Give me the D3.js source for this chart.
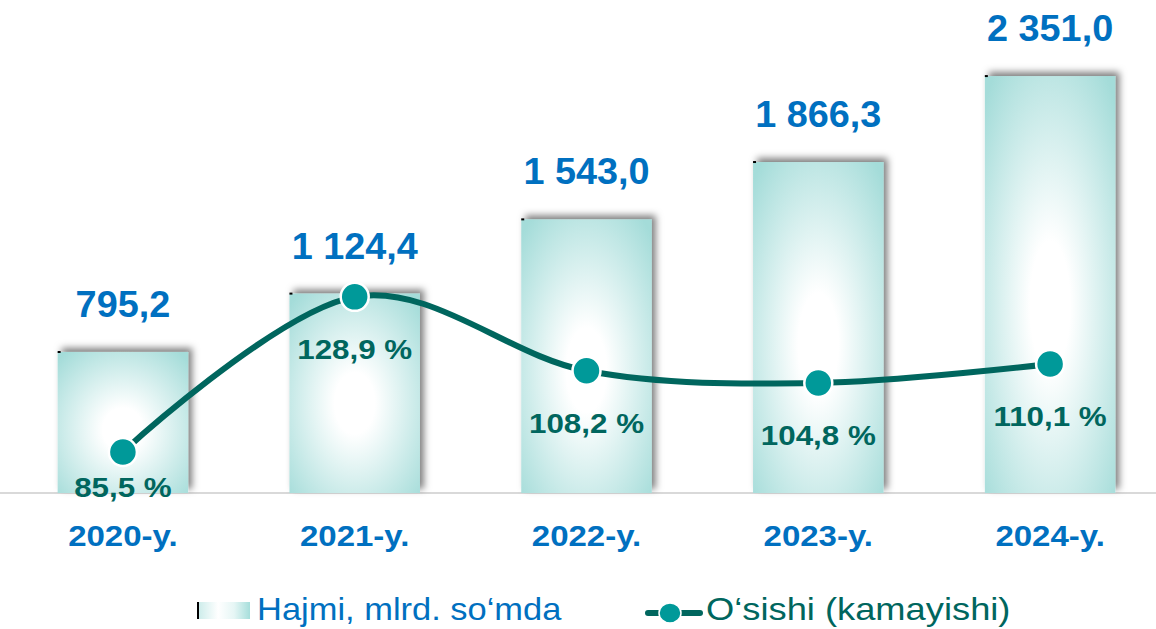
<!DOCTYPE html>
<html>
<head>
<meta charset="utf-8">
<script src="https://cdn.jsdelivr.net/npm/d3@7"></script>
<style>
  html, body { margin: 0; padding: 0; background: #fff; }
  svg { display: block; font-family: "Liberation Sans", Arial, sans-serif; }
</style>
</head>
<body>
<svg id="chart"></svg>
<script>
////////////////// data ////////////////////
const years = ["2020-y.", "2021-y.", "2022-y.", "2023-y.", "2024-y."];
const volume = [795.2, 1124.4, 1543.0, 1866.3, 2351.0];
const growth = [85.5, 128.9, 108.2, 104.8, 110.1];
const legendLabels = ["Hajmi, mlrd. so\u2018mda", "O\u2018sishi (kamayishi)"];

// chart size
const width = 1156;
const height = 629;
const baseY = 493;
const blue = "#0070c0";
const teal = "#00665e";
const tealDot = "#009999";

const svg = d3.select("#chart")
    .attr("width", width)
    .attr("height", height);

const fmt = v => v.toFixed(1).replace(/\B(?=(\d{3})+(?!\d))/g, " ").replace(".", ",");

// scales
const x = d3.scaleBand()
    .domain(years)
    .range([7, 1166])
    .paddingInner(0.437)
    .paddingOuter(0.2185);
const y = d3.scaleLinear()
    .domain([0, 2780])
    .range([baseY, 0]);
const y2 = d3.scaleLinear()
    .domain([74, 212])
    .range([baseY, 0]);

// defs: bar gradient + shadow
const defs = svg.append("defs");
const rg = defs.append("radialGradient")
    .attr("id", "barFill")
    .attr("cx", 0.5).attr("cy", 0.55).attr("r", 0.7);
rg.append("stop").attr("offset", "0%").attr("stop-color", "#ffffff");
rg.append("stop").attr("offset", "22%").attr("stop-color", "#ffffff");
rg.append("stop").attr("offset", "100%").attr("stop-color", "#a4dcd9");

const lg = defs.append("linearGradient")
    .attr("id", "legendFill");
lg.append("stop").attr("offset", "0%").attr("stop-color", "#c9ebe9");
lg.append("stop").attr("offset", "40%").attr("stop-color", "#ffffff");
lg.append("stop").attr("offset", "70%").attr("stop-color", "#e6f6f5");
lg.append("stop").attr("offset", "100%").attr("stop-color", "#a6dedb");

const shadow = defs.append("filter")
    .attr("id", "barShadow")
    .attr("x", "-20%").attr("y", "-20%")
    .attr("width", "140%").attr("height", "140%");
shadow.append("feDropShadow")
    .attr("dx", 4).attr("dy", -4)
    .attr("stdDeviation", 3.5)
    .attr("flood-color", "#000")
    .attr("flood-opacity", 0.5);

// axis line
svg.append("line")
    .attr("x1", 0).attr("x2", width)
    .attr("y1", baseY).attr("y2", baseY)
    .attr("stroke", "#d9d9d9")
    .attr("stroke-width", 2);

// bars
const bars = svg.append("g").attr("class", "bars");
bars.selectAll("rect")
    .data(volume)
    .enter()
    .append("rect")
    .attr("x", (d, i) => x(years[i]))
    .attr("y", d => y(d))
    .attr("width", x.bandwidth())
    .attr("height", d => baseY - y(d))
    .attr("fill", "url(#barFill)")
    .attr("filter", "url(#barShadow)");
// little dark corner marks
bars.selectAll("line.mark")
    .data(volume)
    .enter()
    .append("line")
    .attr("class", "mark")
    .attr("x1", (d, i) => x(years[i]))
    .attr("x2", (d, i) => x(years[i]) + 3)
    .attr("y1", d => y(d))
    .attr("y2", d => y(d))
    .attr("stroke", "#000")
    .attr("stroke-width", 2);

// text helper with slight horizontal stretch
function addText(g, tx, ty, str, size, weight, color, sx) {
    return g.append("text")
        .attr("transform", `translate(${tx},${ty}) scale(${sx},1)`)
        .attr("text-anchor", "middle")
        .attr("font-size", size)
        .attr("font-weight", weight)
        .attr("fill", color)
        .text(str);
}

// line
const cx = i => x(years[i]) + x.bandwidth() / 2;
const lineGen = d3.line()
    .x((d, i) => cx(i))
    .y(d => y2(d))
    .curve(d3.curveCardinal.tension(0));
svg.append("path")
    .attr("d", lineGen(growth))
    .attr("fill", "none")
    .attr("stroke", teal)
    .attr("stroke-width", 6);
svg.append("g").selectAll("circle")
    .data(growth)
    .enter()
    .append("circle")
    .attr("cx", (d, i) => cx(i))
    .attr("cy", d => y2(d))
    .attr("r", 14)
    .attr("fill", tealDot)
    .attr("stroke", "#fff")
    .attr("stroke-width", 2.5);

// labels
const labels = svg.append("g");
volume.forEach((d, i) => {
    addText(labels, cx(i), y(d) - 35, fmt(d), 36, "bold", blue, 1.05);
});
growth.forEach((d, i) => {
    addText(labels, cx(i), Math.min(y2(d) + 62, 497), fmt(d) + " %", 28.5, "bold", teal, 1.1);
});
years.forEach((d, i) => {
    addText(labels, cx(i), 546, d, 30, "bold", blue, 1.1);
});

// legend
const legend = svg.append("g");
legend.append("rect")
    .attr("x", 197).attr("y", 602)
    .attr("width", 53).attr("height", 17)
    .attr("fill", "url(#legendFill)");
legend.append("line")
    .attr("x1", 198).attr("x2", 198)
    .attr("y1", 602).attr("y2", 619)
    .attr("stroke", "#000")
    .attr("stroke-width", 2);
legend.append("text")
    .attr("transform", "translate(257,620) scale(1.13,1)")
    .attr("font-size", 30.5)
    .attr("fill", blue)
    .text(legendLabels[0]);
legend.append("line")
    .attr("x1", 648).attr("x2", 700)
    .attr("y1", 613).attr("y2", 613)
    .attr("stroke", teal)
    .attr("stroke-width", 6)
    .attr("stroke-linecap", "round");
legend.append("ellipse")
    .attr("cx", 670).attr("cy", 613)
    .attr("rx", 11).attr("ry", 10)
    .attr("fill", tealDot)
    .attr("stroke", "#fff")
    .attr("stroke-width", 1.5);
legend.append("text")
    .attr("transform", "translate(706,620) scale(1.19,1)")
    .attr("font-size", 30.5)
    .attr("fill", teal)
    .text(legendLabels[1]);
</script>
</body>
</html>
